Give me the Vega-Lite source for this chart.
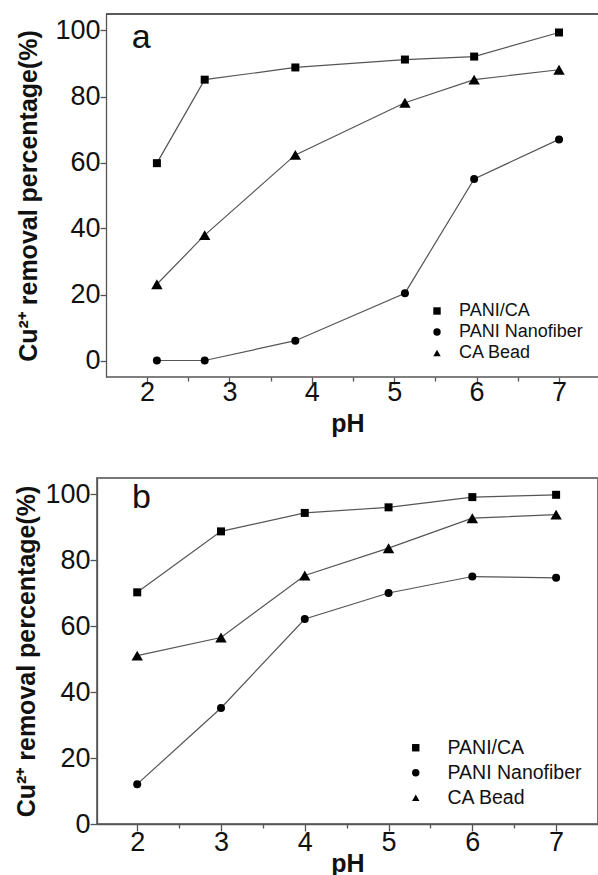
{
  "$schema": "https://vega.github.io/schema/vega-lite/v6.json",
  "padding": {"left": 13, "top": 13, "right": 0, "bottom": 0},
  "background": "white",
  "bounds": "flush",
  "spacing": 101,
  "config": {
    "font": "Liberation Sans",
    "axis": {
      "grid": false,
      "domainColor": "#555",
      "tickColor": "#555",
      "domainWidth": 1.3,
      "tickWidth": 1.3,
      "labelColor": "#111",
      "titleColor": "#111",
      "labelFont": "Liberation Sans",
      "labelFontSize": 27,
      "labelFontWeight": "normal",
      "labelOverlap": false,
      "labelFlush": false,
      "titleFont": "Liberation Sans",
      "titleFontWeight": "bold",
      "titleFontSize": 25
    },
    "legend": {
      "title": null,
      "labelFont": "Liberation Sans",
      "labelColor": "#111",
      "padding": 0,
      "symbolFillColor": "black",
      "symbolStrokeColor": "black",
      "symbolSize": 55
    }
  },
  "datasets": {
    "a": [
      {"series": "PANI/CA", "pH": 2.12, "removal": 59.8},
      {"series": "PANI/CA", "pH": 2.7, "removal": 85.1},
      {"series": "PANI/CA", "pH": 3.8, "removal": 88.8},
      {"series": "PANI/CA", "pH": 5.13, "removal": 91.2},
      {"series": "PANI/CA", "pH": 5.97, "removal": 92.1},
      {"series": "PANI/CA", "pH": 7.0, "removal": 99.4},
      {"series": "PANI Nanofiber", "pH": 2.12, "removal": 0},
      {"series": "PANI Nanofiber", "pH": 2.7, "removal": 0},
      {"series": "PANI Nanofiber", "pH": 3.8, "removal": 6.0},
      {"series": "PANI Nanofiber", "pH": 5.13, "removal": 20.4},
      {"series": "PANI Nanofiber", "pH": 5.97, "removal": 55.0},
      {"series": "PANI Nanofiber", "pH": 7.0, "removal": 67.0},
      {"series": "CA Bead", "pH": 2.12, "removal": 23.1},
      {"series": "CA Bead", "pH": 2.7, "removal": 38.0},
      {"series": "CA Bead", "pH": 3.8, "removal": 62.3},
      {"series": "CA Bead", "pH": 5.13, "removal": 78.1},
      {"series": "CA Bead", "pH": 5.97, "removal": 85.1},
      {"series": "CA Bead", "pH": 7.0, "removal": 88.1}
    ],
    "b": [
      {"series": "PANI/CA", "pH": 2, "removal": 70.3},
      {"series": "PANI/CA", "pH": 3, "removal": 88.8},
      {"series": "PANI/CA", "pH": 4, "removal": 94.4},
      {"series": "PANI/CA", "pH": 5, "removal": 96.1},
      {"series": "PANI/CA", "pH": 6, "removal": 99.2},
      {"series": "PANI/CA", "pH": 7, "removal": 99.9},
      {"series": "PANI Nanofiber", "pH": 2, "removal": 12.1},
      {"series": "PANI Nanofiber", "pH": 3, "removal": 35.2},
      {"series": "PANI Nanofiber", "pH": 4, "removal": 62.2},
      {"series": "PANI Nanofiber", "pH": 5, "removal": 70.1},
      {"series": "PANI Nanofiber", "pH": 6, "removal": 75.1},
      {"series": "PANI Nanofiber", "pH": 7, "removal": 74.7},
      {"series": "CA Bead", "pH": 2, "removal": 51.1},
      {"series": "CA Bead", "pH": 3, "removal": 56.6},
      {"series": "CA Bead", "pH": 4, "removal": 75.4},
      {"series": "CA Bead", "pH": 5, "removal": 83.7},
      {"series": "CA Bead", "pH": 6, "removal": 92.8},
      {"series": "CA Bead", "pH": 7, "removal": 93.9}
    ],
    "labA": [{"panel": "a"}],
    "labB": [{"panel": "b"}]
  },
  "vconcat": [
    {
      "width": 501,
      "height": 363,
      "view": {"stroke": null},
      "layer": [
        {
          "data": {"name": "a"},
          "mark": {"type": "line", "color": "#555", "strokeWidth": 1.2},
          "encoding": {
            "x": {"field": "pH", "type": "quantitative", "title": "pH",
              "scale": {"domain": [1.393, 7.473], "nice": false, "zero": false},
              "axis": {"values": [2, 2.5, 3, 3.5, 4, 4.5, 5, 5.5, 6, 6.5, 7],
                "domain": false,
                "labelExpr": "datum.value % 1 === 0 ? format(datum.value, 'd') : ''",
                "tickSize": {"condition": {"test": "datum.value % 1 === 0", "value": 7}, "value": 4},
                "labelPadding": -5, "titlePadding": 6}},
            "y": {"field": "removal", "type": "quantitative", "title": "Cu²⁺ removal percentage(%)",
              "scale": {"domain": [-5, 105], "nice": false, "zero": false},
              "axis": {"values": [0, 10, 20, 30, 40, 50, 60, 70, 80, 90, 100],
                "offset": -9,
                "labelExpr": "datum.value % 20 === 0 ? datum.label : ''",
                "tickSize": {"condition": {"test": "datum.value % 20 === 0", "value": 6}, "value": 3},
                "labelPadding": 0, "titlePadding": 13}},
            "detail": {"field": "series"}
          }
        },
        {
          "data": {"name": "a"},
          "mark": {"type": "point", "filled": true, "opacity": 1, "color": "black"},
          "encoding": {
            "x": {"field": "pH", "type": "quantitative", "title": "pH"},
            "y": {"field": "removal", "type": "quantitative", "title": "Cu²⁺ removal percentage(%)"},
            "shape": {"field": "series", "type": "nominal",
              "scale": {"domain": ["PANI/CA", "PANI Nanofiber", "CA Bead"], "range": ["square", "circle", "triangle-up"]},
              "legend": {"orient": "bottom-right", "offset": 15, "labelFontSize": 18, "rowPadding": 3, "labelOffset": 13}},
            "size": {"condition": {"test": "datum.series === 'CA Bead'", "value": 130}, "value": 64}
          }
        },
        {
          "data": {"name": "labA"},
          "mark": {"type": "rule", "color": "#222", "strokeWidth": 1.5},
          "encoding": {
            "x": {"datum": 1.5025, "type": "quantitative", "title": "pH"},
            "x2": {"datum": 7.473},
            "y": {"datum": 105, "type": "quantitative", "title": "Cu²⁺ removal percentage(%)"}
          }
        },
        {
          "data": {"name": "labA"},
          "mark": {"type": "rule", "color": "#555", "strokeWidth": 1.3},
          "encoding": {
            "x": {"datum": 1.5025, "type": "quantitative", "title": "pH"},
            "x2": {"datum": 7.473},
            "y": {"datum": -5, "type": "quantitative", "title": "Cu²⁺ removal percentage(%)"}
          }
        },
        {
          "data": {"name": "labA"},
          "mark": {"type": "text", "font": "Liberation Sans", "fontSize": 34, "align": "center", "baseline": "alphabetic", "color": "#111"},
          "encoding": {
            "x": {"datum": 1.93, "type": "quantitative", "title": "pH"},
            "y": {"datum": 94.8, "type": "quantitative", "title": "Cu²⁺ removal percentage(%)"},
            "text": {"field": "panel"}
          }
        }
      ]
    },
    {
      "width": 501,
      "height": 346,
      "view": {"stroke": "#777", "strokeWidth": 2},
      "layer": [
        {
          "data": {"name": "b"},
          "mark": {"type": "line", "color": "#555", "strokeWidth": 1.2},
          "encoding": {
            "x": {"field": "pH", "type": "quantitative", "title": "pH",
              "scale": {"domain": [1.52, 7.5], "nice": false, "zero": false},
              "axis": {"values": [2, 2.5, 3, 3.5, 4, 4.5, 5, 5.5, 6, 6.5, 7],
                "labelExpr": "datum.value % 1 === 0 ? format(datum.value, 'd') : ''",
                "tickSize": {"condition": {"test": "datum.value % 1 === 0", "value": 7}, "value": 4},
                "labelPadding": -2, "titlePadding": -4}},
            "y": {"field": "removal", "type": "quantitative", "title": "Cu²⁺ removal percentage(%)",
              "scale": {"domain": [0, 105], "nice": false, "zero": false},
              "axis": {"values": [0, 10, 20, 30, 40, 50, 60, 70, 80, 90, 100],
                "labelExpr": "datum.value % 20 === 0 ? datum.label : ''",
                "tickSize": {"condition": {"test": "datum.value % 20 === 0", "value": 7}, "value": 4},
                "labelPadding": 0, "titlePadding": 5}},
            "detail": {"field": "series"}
          }
        },
        {
          "data": {"name": "b"},
          "mark": {"type": "point", "filled": true, "opacity": 1, "color": "black"},
          "encoding": {
            "x": {"field": "pH", "type": "quantitative", "title": "pH"},
            "y": {"field": "removal", "type": "quantitative", "title": "Cu²⁺ removal percentage(%)"},
            "shape": {"field": "series", "type": "nominal",
              "scale": {"domain": ["PANI/CA", "PANI Nanofiber", "CA Bead"], "range": ["square", "circle", "triangle-up"]},
              "legend": {"orient": "bottom-right", "offset": 16, "labelFontSize": 19.5, "rowPadding": 4, "labelOffset": 22}},
            "size": {"condition": {"test": "datum.series === 'CA Bead'", "value": 130}, "value": 64}
          }
        },
        {
          "data": {"name": "labB"},
          "mark": {"type": "text", "font": "Liberation Sans", "fontSize": 34, "align": "center", "baseline": "alphabetic", "color": "#111"},
          "encoding": {
            "x": {"datum": 2.05, "type": "quantitative", "title": "pH"},
            "y": {"datum": 96, "type": "quantitative", "title": "Cu²⁺ removal percentage(%)"},
            "text": {"field": "panel"}
          }
        }
      ]
    }
  ],
  "resolve": {"scale": {"x": "independent", "y": "independent", "shape": "independent"}, "legend": {"shape": "independent"}}
}
